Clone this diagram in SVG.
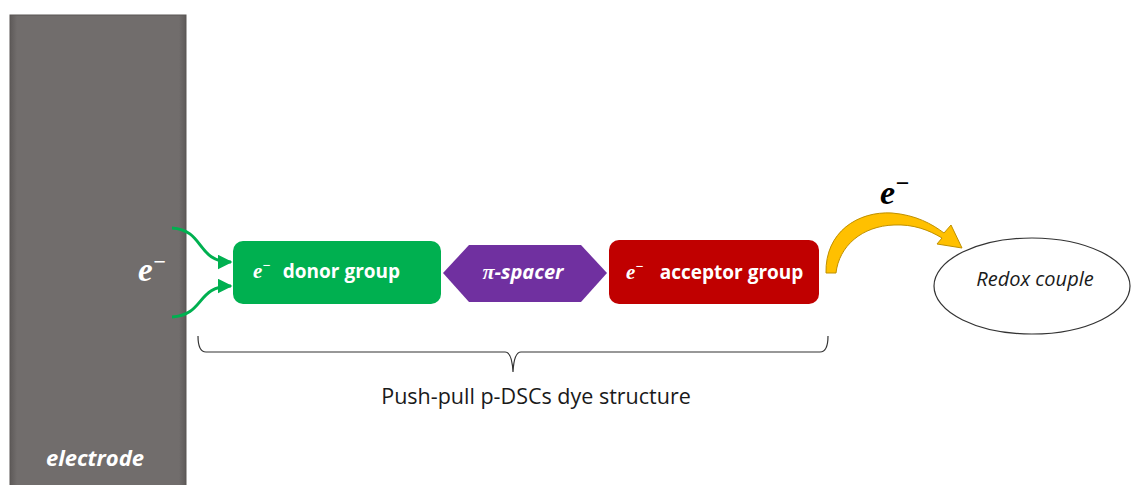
<svg xmlns="http://www.w3.org/2000/svg" width="1132" height="485" viewBox="0 0 1132 485">
  <style>
    .lbl { font-family: "Open Sans", "Liberation Sans", sans-serif; font-weight: bold; fill: #ffffff; }
    .math { font-family: "Liberation Serif", "DejaVu Serif", serif; font-style: italic; font-weight: bold; }
    .plain { font-family: "Open Sans", "Liberation Sans", sans-serif; fill: #1a1a1a; }
  </style>
  <defs>
    <marker id="greenHead" viewBox="0 0 10 10" refX="9" refY="5" markerWidth="5" markerHeight="5" orient="auto">
      <path d="M0,0 L10,5 L0,10 Z" fill="#00b050"/>
    </marker>
    <linearGradient id="electrodeEdge" x1="0" x2="1" y1="0" y2="0">
      <stop offset="0" stop-color="#5e5a59"/>
      <stop offset="0.04" stop-color="#716d6c"/>
      <stop offset="0.96" stop-color="#716d6c"/>
      <stop offset="1" stop-color="#5e5a59"/>
    </linearGradient>
  </defs>

  <rect width="1132" height="485" fill="#ffffff"/>

  <!-- electrode slab -->
  <g id="electrode">
    <rect x="10" y="15" width="176" height="475" fill="url(#electrodeEdge)" stroke="#5a5655" stroke-width="1"/>
    <text x="95" y="466" text-anchor="middle" class="lbl" font-style="italic" font-size="22">electrode</text>
    <text x="138" y="281" class="math" fill="#ffffff" font-size="33">e<tspan font-size="22" dy="-12">−</tspan></text>
  </g>

  <!-- connectors -->
  <g id="connectors" fill="none">
    <path d="M172,228 C205,230 196,262 231,262" stroke="#00b050" stroke-width="3" marker-end="url(#greenHead)"/>
    <path d="M172,317 C205,315 196,286 231,286" stroke="#00b050" stroke-width="3" marker-end="url(#greenHead)"/>
    <!-- curved transfer arrow to the redox couple -->
    <path d="M826,273 C825,232 858,211 892,213 C916,215 932,224 944,233 L951,225 L962,248 L937,244 L942,238 C929,230 913,224 894,225 C862,226 839,246 836,273 Z" fill="#ffc000" stroke="#bf9000" stroke-width="1"/>
    <!-- brace under the dye -->
    <path d="M198,336 Q198,352 206,352 L505,352 Q512,352 513,372 Q514,352 521,352 L820,352 Q828,352 828,336" stroke="#333333" stroke-width="1.2"/>
  </g>

  <g id="donor">
    <rect x="233" y="241" width="208" height="63" rx="10" fill="#00b050"/>
    <text x="253" y="278" font-size="19"><tspan class="math" fill="#ffffff" font-size="21">e</tspan><tspan class="math" fill="#ffffff" font-size="14" dy="-8">−</tspan><tspan class="lbl" dy="8" dx="12">donor group</tspan></text>
  </g>

  <g id="spacer">
    <polygon points="443,273 469,245 581,245 607,273 581,302 469,302" fill="#7030a0"/>
    <text x="523" y="279" text-anchor="middle" class="lbl" font-style="italic" font-size="20"><tspan class="math" font-weight="bold" font-size="22">π</tspan>-spacer</text>
  </g>

  <g id="acceptor">
    <rect x="609" y="240" width="210" height="64" rx="10" fill="#c00000"/>
    <text x="626" y="279" font-size="19"><tspan class="math" fill="#ffffff" font-size="21">e</tspan><tspan class="math" fill="#ffffff" font-size="14" dy="-8">−</tspan><tspan class="lbl" dy="8" dx="16">acceptor group</tspan></text>
  </g>

  <g id="electron-label">
    <text x="880" y="204" class="math" fill="#000000" font-size="34">e<tspan font-size="24" dy="-13">−</tspan></text>
  </g>

  <g id="redox">
    <ellipse cx="1032" cy="286" rx="98" ry="48" fill="#ffffff" stroke="#333333" stroke-width="1.2"/>
    <text x="1035" y="286" text-anchor="middle" class="plain" font-style="italic" font-size="20">Redox couple</text>
  </g>

  <g id="caption">
    <text x="536" y="404" text-anchor="middle" class="plain" font-size="21.5">Push-pull p-DSCs dye structure</text>
  </g>
</svg>
